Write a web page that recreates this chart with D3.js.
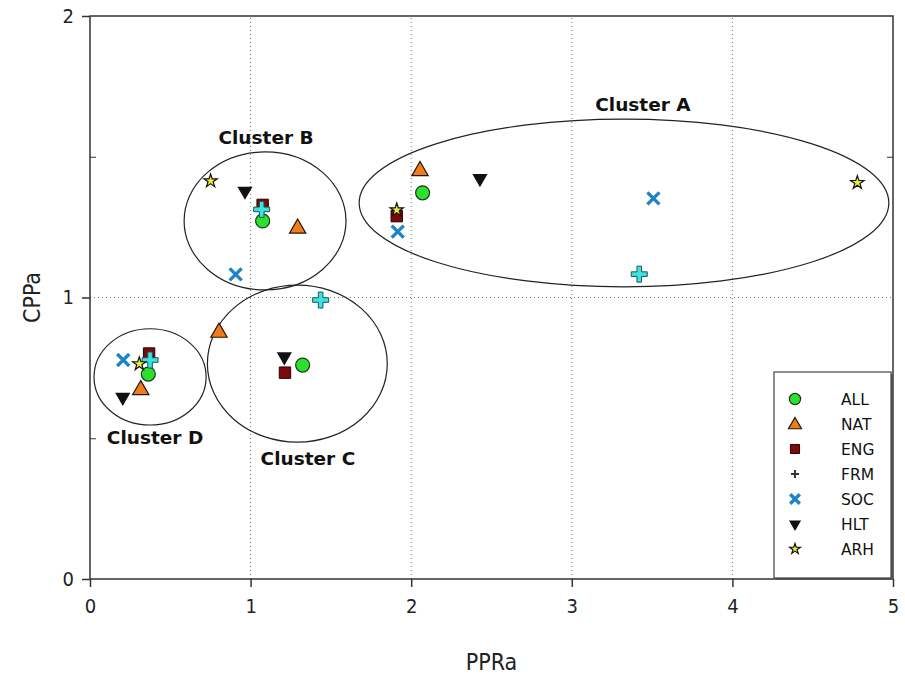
<!DOCTYPE html>
<html lang="en">
  <head>
    <meta charset="UTF-8" />
    <title>CPPa vs PPRa clusters</title>
    <script src="https://d3js.org/d3.v7.min.js"></script>
    <style>
      body {
        margin: 0;
        background: #ffffff;
      }
      .tick-label {
        font-family: 'DejaVu Sans Condensed', 'DejaVu Sans', sans-serif;
        font-stretch: condensed;
        font-size: 20px;
        fill: #222;
      }
      .axis-title {
        font-family: 'DejaVu Sans Condensed', 'DejaVu Sans', sans-serif;
        font-stretch: condensed;
        font-size: 23px;
        fill: #222;
      }
      .cluster-label {
        font-family: 'DejaVu Sans', Verdana, sans-serif;
        font-weight: bold;
        font-size: 18.5px;
        fill: #111;
      }
      .legend-label {
        font-family: 'DejaVu Sans', sans-serif;
        font-size: 15.5px;
        fill: #111;
      }
    </style>
  </head>
  <body>
    <svg id="chart" width="905" height="681"></svg>
    <script>
      // series, in legend order
      const seriesNames = ['ALL', 'NAT', 'ENG', 'FRM', 'SOC', 'HLT', 'ARH'];

      // [PPRa, CPPa] per series, one point per cluster (D, B, C, A)
      const ALL = [[0.363, 0.728], [1.075, 1.272], [1.324, 0.76], [2.071, 1.372]];
      const NAT = [[0.316, 0.675], [1.293, 1.249], [0.803, 0.879], [2.055, 1.453]];
      const ENG = [[0.368, 0.801], [1.075, 1.329], [1.214, 0.733], [1.91, 1.289]];
      const FRM = [[0.374, 0.778], [1.069, 1.313], [1.436, 0.991], [3.42, 1.083]];
      const SOC = [[0.207, 0.778], [0.907, 1.082], [1.916, 1.234], [3.508, 1.352]];
      const HLT = [[0.204, 0.646], [0.965, 1.378], [1.21, 0.79], [2.428, 1.423]];
      const ARH = [[0.307, 0.764], [0.751, 1.414], [1.91, 1.311], [4.778, 1.408]];

      // cluster ellipses: centre x, centre y, radius x, radius y (data units)
      const clusterNames = ['Cluster A', 'Cluster B', 'Cluster C', 'Cluster D'];
      const clusterShapes = [
        [3.325, 1.336, 1.649, 0.298],
        [1.09, 1.272, 0.504, 0.245],
        [1.291, 0.765, 0.56, 0.279],
        [0.374, 0.718, 0.349, 0.171],
      ];
      // label anchor positions (data units)
      const clusterLabelPos = [
        [3.443, 1.664],
        [1.096, 1.545],
        [1.357, 0.405],
        [0.405, 0.48],
      ];

      const xTicks = [0, 1, 2, 3, 4, 5];
      const yTicks = [0, 1, 2];
      const yMinorTicks = [0.5, 1.5];

      const W = 905,
        H = 681;
      const m = { left: 90, right: 12, top: 16, bottom: 102 };

      const svg = d3.select('#chart');

      const x = d3
        .scaleLinear()
        .domain([0, 5])
        .range([m.left, W - m.right]);
      const y = d3
        .scaleLinear()
        .domain([0, 2])
        .range([H - m.bottom, m.top]);

      // dotted grid
      const grid = svg.append('g');
      grid
        .selectAll('line.vg')
        .data([1, 2, 3, 4])
        .join('line')
        .attr('x1', (d) => x(d))
        .attr('x2', (d) => x(d))
        .attr('y1', y(0))
        .attr('y2', y(2))
        .attr('stroke', '#777')
        .attr('stroke-width', 1)
        .attr('stroke-dasharray', '1,3');
      grid
        .append('line')
        .attr('x1', x(0))
        .attr('x2', x(5))
        .attr('y1', y(1))
        .attr('y2', y(1))
        .attr('stroke', '#777')
        .attr('stroke-width', 1)
        .attr('stroke-dasharray', '1,3');

      // frame
      svg
        .append('rect')
        .attr('x', x(0))
        .attr('y', y(2))
        .attr('width', x(5) - x(0))
        .attr('height', y(0) - y(2))
        .attr('fill', 'none')
        .attr('stroke', '#333')
        .attr('stroke-width', 1.5);

      // axes
      const xAxis = svg
        .append('g')
        .attr('transform', `translate(0,${y(0)})`)
        .call(d3.axisBottom(x).tickValues(xTicks).tickSize(8).tickPadding(12).tickFormat(d3.format('d')));
      const yAxis = svg
        .append('g')
        .attr('transform', `translate(${x(0)},0)`)
        .call(d3.axisLeft(y).tickValues(yTicks).tickSize(8).tickPadding(8).tickFormat(d3.format('d')));
      [xAxis, yAxis].forEach((a) => {
        a.select('.domain').remove();
        a.selectAll('line').attr('stroke', '#333').attr('stroke-width', 1.5);
        a.selectAll('text').attr('class', 'tick-label').attr('fill', null);
      });
      // minor ticks inside, left and right
      svg
        .append('g')
        .attr('transform', `translate(${x(0)},0)`)
        .call(d3.axisRight(y).tickValues(yMinorTicks).tickSize(6).tickFormat(''))
        .call((g) => g.select('.domain').remove())
        .selectAll('line')
        .attr('stroke', '#333');
      svg
        .append('g')
        .attr('transform', `translate(${x(5)},0)`)
        .call(d3.axisLeft(y).tickValues(yMinorTicks).tickSize(6).tickFormat(''))
        .call((g) => g.select('.domain').remove())
        .selectAll('line')
        .attr('stroke', '#333');

      // axis titles
      svg
        .append('text')
        .attr('class', 'axis-title')
        .attr('x', (x(0) + x(5)) / 2)
        .attr('y', 670)
        .attr('text-anchor', 'middle')
        .text('PPRa');
      svg
        .append('text')
        .attr('class', 'axis-title')
        .attr('transform', `translate(40,${y(1)}) rotate(-90)`)
        .attr('text-anchor', 'middle')
        .text('CPPa');

      // cluster ellipses + labels
      svg
        .append('g')
        .selectAll('ellipse')
        .data(clusterShapes)
        .join('ellipse')
        .attr('cx', (d) => x(d[0]))
        .attr('cy', (d) => y(d[1]))
        .attr('rx', (d) => x(d[2]) - x(0))
        .attr('ry', (d) => y(0) - y(d[3]))
        .attr('fill', 'none')
        .attr('stroke', '#222')
        .attr('stroke-width', 1.2);
      svg
        .append('g')
        .selectAll('text')
        .data(clusterNames)
        .join('text')
        .attr('class', 'cluster-label')
        .attr('x', (d, i) => x(clusterLabelPos[i][0]))
        .attr('y', (d, i) => y(clusterLabelPos[i][1]))
        .attr('text-anchor', 'middle')
        .text((d) => d);

      // marker drawing
      const plusPath = (s, w) =>
        `M${-w},${-s}H${w}V${-w}H${s}V${w}H${w}V${s}H${-w}V${w}H${-s}V${-w}H${-w}Z`;

      function drawMarker(g, name, big) {
        const k = big ? 1 : 0.8;
        if (name === 'ALL') {
          g.append('circle').attr('r', 7 * k).attr('fill', '#2ee02e').attr('stroke', '#1a3a1a').attr('stroke-width', 1.2);
        } else if (name === 'NAT') {
          g.append('path')
            .attr('d', d3.symbol(d3.symbolTriangle, 115 * k * k)())
            .attr('transform', 'translate(0,1)')
            .attr('fill', '#ee7d1e')
            .attr('stroke', '#2a1400')
            .attr('stroke-width', 1.2);
        } else if (name === 'ENG') {
          g.append('path')
            .attr('d', d3.symbol(d3.symbolSquare, 130 * k * k)())
            .attr('fill', '#7c0a0a')
            .attr('stroke', '#2a0000')
            .attr('stroke-width', 1);
        } else if (name === 'FRM') {
          if (big) {
            g.append('path').attr('d', plusPath(8, 2.3)).attr('fill', '#3ee0e0').attr('stroke', '#175858').attr('stroke-width', 1);
          } else {
            g.append('path').attr('d', plusPath(4, 1)).attr('fill', '#333');
          }
        } else if (name === 'SOC') {
          const s = 6 * k;
          g.append('path')
            .attr('d', `M${-s},${-s}L${s},${s}M${-s},${s}L${s},${-s}`)
            .attr('stroke', '#1f84c4')
            .attr('stroke-width', 3.4)
            .attr('fill', 'none');
        } else if (name === 'HLT') {
          g.append('path')
            .attr('d', d3.symbol(d3.symbolTriangle, 100 * k * k)())
            .attr('transform', 'rotate(180)')
            .attr('fill', '#111');
        } else if (name === 'ARH') {
          g.append('path')
            .attr('d', d3.symbol(d3.symbolStar, 55 * k * k)())
            .attr('fill', '#eeee3a')
            .attr('stroke', '#111')
            .attr('stroke-width', 1.2);
        }
      }

      const seriesData = [ALL, NAT, ENG, FRM, SOC, HLT, ARH];
      const pts = svg.append('g');
      seriesNames.forEach((name, i) => {
        seriesData[i].forEach((p) => {
          const g = pts.append('g').attr('transform', `translate(${x(p[0])},${y(p[1])})`);
          drawMarker(g, name, true);
        });
      });

      // legend
      const lg = svg.append('g').attr('transform', 'translate(774,372)');
      lg.append('rect').attr('x', 2).attr('y', 2).attr('width', 117).attr('height', 206).attr('fill', '#555');
      lg.append('rect').attr('width', 117).attr('height', 206).attr('fill', '#fff').attr('stroke', '#444').attr('stroke-width', 1.2);
      seriesNames.forEach((name, i) => {
        const row = lg.append('g').attr('transform', `translate(21,${27 + i * 25})`);
        drawMarker(row, name, false);
        row.append('text').attr('class', 'legend-label').attr('x', 46).attr('y', 5.5).text(name);
      });
    </script>
  </body>
</html>
